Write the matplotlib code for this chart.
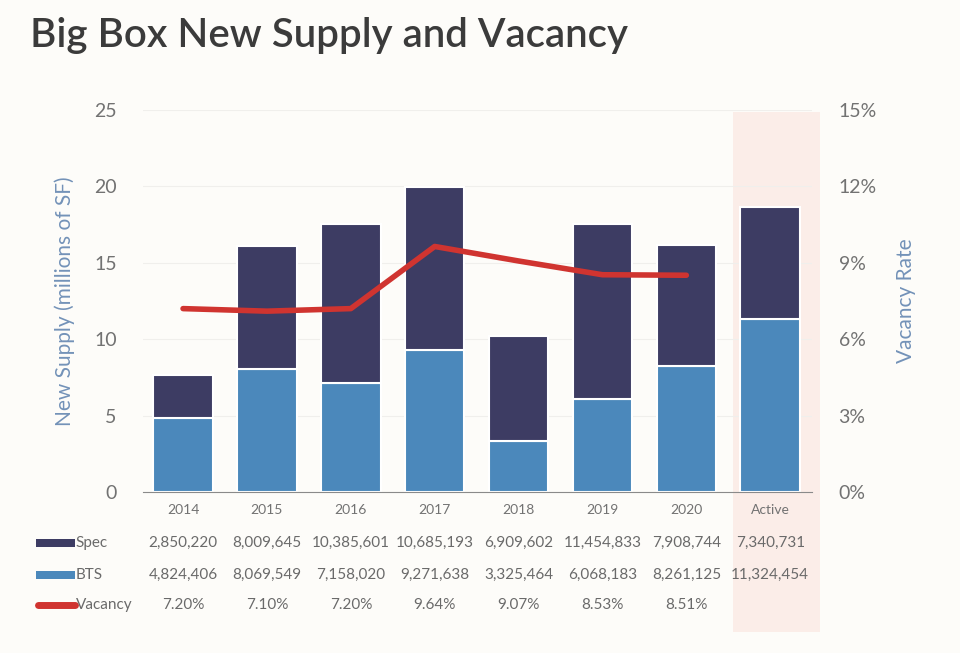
import matplotlib.pyplot as plt
import matplotlib.transforms as mtransforms
from matplotlib.patches import Rectangle
from matplotlib.lines import Line2D
import numpy as np

plt.rcParams['font.family'] = ['Lato', 'DejaVu Sans']

# data from the chart table
categories = ['2014', '2015', '2016', '2017', '2018', '2019', '2020', 'Active']
spec = [2850220, 8009645, 10385601, 10685193, 6909602, 11454833, 7908744, 7340731]
bts = [4824406, 8069549, 7158020, 9271638, 3325464, 6068183, 8261125, 11324454]
vacancy = [7.20, 7.10, 7.20, 9.64, 9.07, 8.53, 8.51]

c_spec = '#3d3c63'
c_bts = '#4b88bb'
c_vac = '#d03430'
c_lab = '#7392b8'
c_tick = '#727272'
bg = '#fdfcf9'

fig = plt.figure(figsize=(9.6, 6.53), dpi=100, facecolor=bg)
ax = fig.add_axes([0.149, 0.2466, 0.697, 0.585])
ax.set_facecolor('none')
ax2 = ax.twinx()

x = np.arange(len(categories))
spec_m = np.array(spec) / 1e6
bts_m = np.array(bts) / 1e6

# highlight band for "Active"
trans = mtransforms.blended_transform_factory(ax.transData, fig.transFigure)
band = Rectangle((6.555, 0.032), 1.035, 0.796, transform=trans,
                 facecolor='#fbede8', edgecolor='none', zorder=-5)
fig.patches.append(band)

for yv in [5, 10, 15, 20, 25]:
    ax.axhline(yv, color='#f0efec', lw=0.8, zorder=0)

ax.bar(x, bts_m, width=0.71, color=c_bts, edgecolor='white', linewidth=1.5, zorder=2)
ax.bar(x, spec_m, width=0.71, bottom=bts_m, color=c_spec, edgecolor='white',
       linewidth=1.5, zorder=2)

ax2.plot(x[:len(vacancy)], vacancy, color=c_vac, lw=4, solid_capstyle='round',
         solid_joinstyle='round', zorder=3)

ax.set_xlim(-0.477, 7.5)
ax.set_ylim(0, 25)
ax2.set_ylim(0, 15)
ax.set_yticks([0, 5, 10, 15, 20, 25])
ax2.set_yticks([0, 3, 6, 9, 12, 15])
ax2.set_yticklabels([f'{v}%' for v in [0, 3, 6, 9, 12, 15]])

for a in (ax, ax2):
    for s in ['top', 'left', 'right']:
        a.spines[s].set_visible(False)
    a.spines['bottom'].set_color('#8a8a8a')
ax.tick_params(axis='y', length=0, labelsize=14, colors=c_tick, pad=19)
ax2.tick_params(axis='y', length=0, labelsize=14, colors=c_tick, pad=19)
ax2.spines['bottom'].set_visible(False)

ax.set_xticks(x)
ax.set_xticklabels(categories)
ax.tick_params(axis='x', length=0, labelsize=10, colors=c_tick, pad=9)

ax.set_ylabel('New Supply (millions of SF)', color=c_lab, fontsize=15, labelpad=14)
ax2.set_ylabel('Vacancy Rate', color=c_lab, fontsize=15, labelpad=14)

# table below the chart
rows = [(0.169, spec, lambda v: f'{v:,}'),
        (0.120, bts, lambda v: f'{v:,}'),
        (0.073, vacancy, lambda v: f'{v:.2f}%')]
for yf, vals, fmt in rows:
    for i, v in enumerate(vals):
        fig.text(x[i], yf, fmt(v), transform=trans, ha='center', va='center',
                 fontsize=11, color='#6a6a6a')

lx0, lx1 = 0.037, 0.078
fig.patches.append(Rectangle((lx0, 0.163), lx1 - lx0, 0.012, transform=fig.transFigure,
                             facecolor=c_spec, edgecolor='none'))
fig.patches.append(Rectangle((lx0, 0.114), lx1 - lx0, 0.012, transform=fig.transFigure,
                             facecolor=c_bts, edgecolor='none'))
fig.lines.append(Line2D([lx0 + 0.003, lx1], [0.073, 0.073], transform=fig.transFigure,
                        color=c_vac, lw=5, solid_capstyle='round'))
for yf, lab in [(0.169, 'Spec'), (0.120, 'BTS'), (0.073, 'Vacancy')]:
    fig.text(lx1 + 0.001, yf, lab, ha='left', va='center', fontsize=11, color='#6a6a6a')

fig.text(0.031, 0.945, 'Big Box New Supply and Vacancy', ha='left', va='center',
         fontsize=29, color='#3b3b3b', fontweight='semibold')

fig.savefig('out.png', dpi=100, facecolor=bg)
